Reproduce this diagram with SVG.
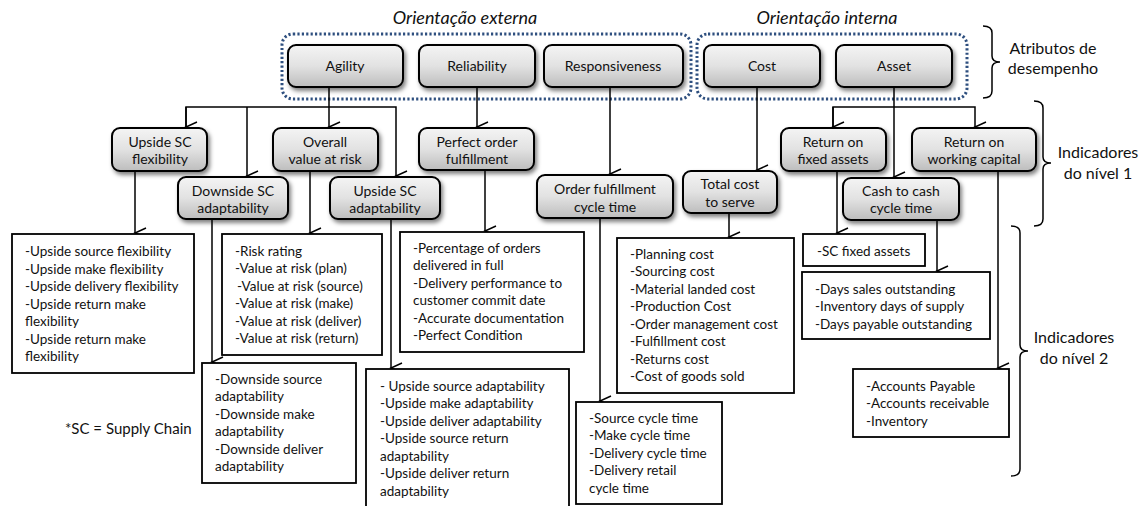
<svg xmlns="http://www.w3.org/2000/svg" width="1147" height="506" viewBox="0 0 1147 506">
<defs>
<linearGradient id="g" x1="0" y1="0" x2="0" y2="1">
<stop offset="0" stop-color="#f4f4f4"/>
<stop offset="0.5" stop-color="#e2e2e2"/>
<stop offset="1" stop-color="#bdbdbd"/>
</linearGradient>
<filter id="sh" x="-10%" y="-10%" width="130%" height="140%">
<feDropShadow dx="2" dy="3" stdDeviation="2" flood-color="#000" flood-opacity="0.5"/>
</filter>
<marker id="ar" markerUnits="userSpaceOnUse" markerWidth="14" markerHeight="14" viewBox="-7 -12 14 14" refX="0" refY="0" orient="auto-start-reverse">
<path d="M-5,-11 L0,0 L5,-11" fill="none" stroke="#000" stroke-width="1.5"/>
</marker>
</defs>
<style>
text{font-family:"Lato","Liberation Sans",sans-serif;fill:#111;}
.n{fill:url(#g);stroke:#000;stroke-width:2;filter:url(#sh);}
.b{fill:#fff;stroke:#000;stroke-width:1.8;}
.nt{font-size:14px;text-anchor:middle;}
.lt{font-size:13.5px;}
.hd{font-size:18px;font-style:italic;text-anchor:middle;}
.br{font-size:16px;text-anchor:middle;}
.dot{fill:none;stroke:#2e4f7f;stroke-width:3;stroke-dasharray:2.2 2.2;}
.c{fill:none;stroke:#000;stroke-width:1.5;}
.brc{fill:none;stroke:#000;stroke-width:1.5;}
</style>

<g id="headers">
<text class="hd" x="465" y="24">Orientação externa</text>
<text class="hd" x="827" y="24">Orientação interna</text>
<rect class="dot" x="282" y="34" width="409" height="65" rx="11"/>
<rect class="dot" x="697" y="34" width="270" height="65" rx="11"/>
</g>

<g id="braces">
<path class="brc" d="M983,26 Q992,26 992,33 L992,56 Q992,62 1000,62 Q992,62 992,68 L992,91 Q992,98 983,98"/>
<text class="br" x="1053" y="54">Atributos de</text>
<text class="br" x="1053" y="74">desempenho</text>
<path class="brc" d="M1034,101 Q1043,101 1043,108 L1043,157 Q1043,163 1051,163 Q1043,163 1043,169 L1043,219 Q1043,226 1034,226"/>
<text class="br" x="1098" y="158">Indicadores</text>
<text class="br" x="1098" y="179">do nível  1</text>
<path class="brc" d="M1011,226 Q1020,226 1020,233 L1020,345 Q1020,351 1028,351 Q1020,351 1020,357 L1020,469 Q1020,476 1011,476"/>
<text class="br" x="1074" y="343">Indicadores</text>
<text class="br" x="1074" y="364">do nível  2</text>
</g>

<g id="connectors">
<path class="c" d="M329,87 V127" marker-end="url(#ar)"/>
<path class="c" d="M186,127 V107 H396 V176" marker-end="url(#ar)"/>
<path class="c" d="M186,107 V127" marker-end="url(#ar)"/>
<path class="c" d="M247,107 V176" marker-end="url(#ar)"/>
<path class="c" d="M477,87 V127" marker-end="url(#ar)"/>
<path class="c" d="M610,87 V174" marker-end="url(#ar)"/>
<path class="c" d="M757,87 V170" marker-end="url(#ar)"/>
<path class="c" d="M894,87 V177" marker-end="url(#ar)"/>
<path class="c" d="M833,127 V107 H975 V127" marker-end="url(#ar)"/>
<path class="c" d="M833,107 V127" marker-end="url(#ar)"/>
<path class="c" d="M135,171 V233" marker-end="url(#ar)"/>
<path class="c" d="M310,171 V233" marker-end="url(#ar)"/>
<path class="c" d="M212,219 V362" marker-end="url(#ar)"/>
<path class="c" d="M391,219 V368" marker-end="url(#ar)"/>
<path class="c" d="M485,170 V231" marker-end="url(#ar)"/>
<path class="c" d="M600,218 V401" marker-end="url(#ar)"/>
<path class="c" d="M729,213 V237" marker-end="url(#ar)"/>
<path class="c" d="M837,171 V233" marker-end="url(#ar)"/>
<path class="c" d="M937,220 V271" marker-end="url(#ar)"/>
<path class="c" d="M998,171 V368" marker-end="url(#ar)"/>
</g>

<g id="agility"><rect class="n" x="288" y="45" width="115" height="42" rx="8"/><text class="nt" x="345" y="71">Agility</text></g>
<g id="reliability"><rect class="n" x="419" y="45" width="116" height="42" rx="8"/><text class="nt" x="477" y="71">Reliability</text></g>
<g id="responsiveness"><rect class="n" x="544" y="45" width="139" height="42" rx="8"/><text class="nt" x="613" y="71">Responsiveness</text></g>
<g id="cost"><rect class="n" x="704" y="45" width="116" height="42" rx="8"/><text class="nt" x="762" y="71">Cost</text></g>
<g id="asset"><rect class="n" x="836" y="45" width="116" height="42" rx="8"/><text class="nt" x="894" y="71">Asset</text></g>

<g id="upside-sc-flex"><rect class="n" x="112" y="128" width="95" height="43" rx="8"/><text class="nt" x="160" y="147">Upside SC</text><text class="nt" x="160" y="164">flexibility</text></g>
<g id="overall-var"><rect class="n" x="273" y="128" width="105" height="43" rx="8"/><text class="nt" x="325" y="147">Overall</text><text class="nt" x="325" y="164">value at risk</text></g>
<g id="downside-sc-adapt"><rect class="n" x="178" y="177" width="110" height="42" rx="8"/><text class="nt" x="233" y="196">Downside SC</text><text class="nt" x="233" y="213">adaptability</text></g>
<g id="upside-sc-adapt"><rect class="n" x="330" y="177" width="110" height="42" rx="8"/><text class="nt" x="385" y="196">Upside SC</text><text class="nt" x="385" y="213">adaptability</text></g>
<g id="perfect-order"><rect class="n" x="419" y="128" width="115" height="42" rx="8"/><text class="nt" x="477" y="147">Perfect order</text><text class="nt" x="477" y="164">fulfillment</text></g>
<g id="order-cycle"><rect class="n" x="537" y="175" width="136" height="43" rx="8"/><text class="nt" x="605" y="194">Order fulfillment</text><text class="nt" x="605" y="212">cycle time</text></g>
<g id="total-cost"><rect class="n" x="683" y="171" width="94" height="42" rx="8"/><text class="nt" x="730" y="189">Total cost</text><text class="nt" x="730" y="207">to serve</text></g>
<g id="return-fixed"><rect class="n" x="781" y="128" width="105" height="43" rx="8"/><text class="nt" x="833" y="147">Return on</text><text class="nt" x="833" y="164">fixed assets</text></g>
<g id="return-working"><rect class="n" x="912" y="128" width="124" height="43" rx="8"/><text class="nt" x="974" y="147">Return on</text><text class="nt" x="974" y="164">working capital</text></g>
<g id="cash-to-cash"><rect class="n" x="843" y="178" width="116" height="42" rx="8"/><text class="nt" x="901" y="196">Cash to cash</text><text class="nt" x="901" y="213">cycle time</text></g>

<g id="list-upside-flex"><rect class="b" x="12" y="234" width="182" height="139"/>
<text class="lt" x="25" y="256">-Upside source flexibility</text>
<text class="lt" x="25" y="274">-Upside make flexibility</text>
<text class="lt" x="25" y="291">-Upside delivery flexibility</text>
<text class="lt" x="25" y="309">-Upside return make</text>
<text class="lt" x="25" y="326">flexibility</text>
<text class="lt" x="25" y="344">-Upside return make</text>
<text class="lt" x="25" y="361">flexibility</text></g>

<g id="list-risk"><rect class="b" x="222" y="234" width="160" height="121"/>
<text class="lt" x="235" y="256">-Risk rating</text>
<text class="lt" x="235" y="273">-Value at risk (plan)</text>
<text class="lt" x="237" y="291">-Value at risk (source)</text>
<text class="lt" x="235" y="308">-Value at risk (make)</text>
<text class="lt" x="235" y="326">-Value at risk (deliver)</text>
<text class="lt" x="235" y="343">-Value at risk (return)</text></g>

<g id="list-downside"><rect class="b" x="202" y="363" width="154" height="120"/>
<text class="lt" x="215" y="384">-Downside source</text>
<text class="lt" x="215" y="401">adaptability</text>
<text class="lt" x="215" y="419">-Downside make</text>
<text class="lt" x="215" y="436">adaptability</text>
<text class="lt" x="215" y="454">-Downside deliver</text>
<text class="lt" x="215" y="471">adaptability</text></g>

<g id="note"><text x="65" y="434" style="font-size:15px">*SC = Supply Chain</text></g>

<g id="list-upside-adapt"><rect class="b" x="366" y="369" width="203" height="142"/>
<text class="lt" x="380" y="391">- Upside source adaptability</text>
<text class="lt" x="380" y="408">-Upside make adaptability</text>
<text class="lt" x="380" y="426">-Upside deliver adaptability</text>
<text class="lt" x="380" y="443">-Upside source return</text>
<text class="lt" x="380" y="461">adaptability</text>
<text class="lt" x="380" y="478">-Upside deliver return</text>
<text class="lt" x="380" y="496">adaptability</text></g>

<g id="list-perfect"><rect class="b" x="400" y="232" width="184" height="120"/>
<text class="lt" x="413" y="253">-Percentage of orders</text>
<text class="lt" x="413" y="270">delivered in full</text>
<text class="lt" x="413" y="288">-Delivery performance to</text>
<text class="lt" x="413" y="305">customer commit date</text>
<text class="lt" x="413" y="323">-Accurate  documentation</text>
<text class="lt" x="413" y="340">-Perfect Condition</text></g>

<g id="list-cost"><rect class="b" x="617" y="238" width="177" height="155"/>
<text class="lt" x="630" y="259">-Planning cost</text>
<text class="lt" x="630" y="276">-Sourcing cost</text>
<text class="lt" x="630" y="294">-Material landed cost</text>
<text class="lt" x="630" y="311">-Production Cost</text>
<text class="lt" x="630" y="329">-Order management cost</text>
<text class="lt" x="630" y="346">-Fulfillment cost</text>
<text class="lt" x="630" y="364">-Returns cost</text>
<text class="lt" x="630" y="381">-Cost of goods sold</text></g>

<g id="list-cycle"><rect class="b" x="576" y="402" width="146" height="102"/>
<text class="lt" x="589" y="423">-Source cycle time</text>
<text class="lt" x="589" y="440">-Make cycle time</text>
<text class="lt" x="589" y="458">-Delivery cycle time</text>
<text class="lt" x="589" y="475">-Delivery retail</text>
<text class="lt" x="589" y="493">cycle time</text></g>

<g id="list-fixed"><rect class="b" x="803" y="234" width="122" height="32"/>
<text class="lt" x="817" y="256">-SC fixed assets</text></g>

<g id="list-days"><rect class="b" x="802" y="272" width="188" height="67"/>
<text class="lt" x="815" y="294">-Days sales outstanding</text>
<text class="lt" x="815" y="311">-Inventory days of supply</text>
<text class="lt" x="815" y="329">-Days payable outstanding</text></g>

<g id="list-accounts"><rect class="b" x="853" y="369" width="156" height="68"/>
<text class="lt" x="866" y="391">-Accounts Payable</text>
<text class="lt" x="866" y="408">-Accounts receivable</text>
<text class="lt" x="866" y="426">-Inventory</text></g>
</svg>
